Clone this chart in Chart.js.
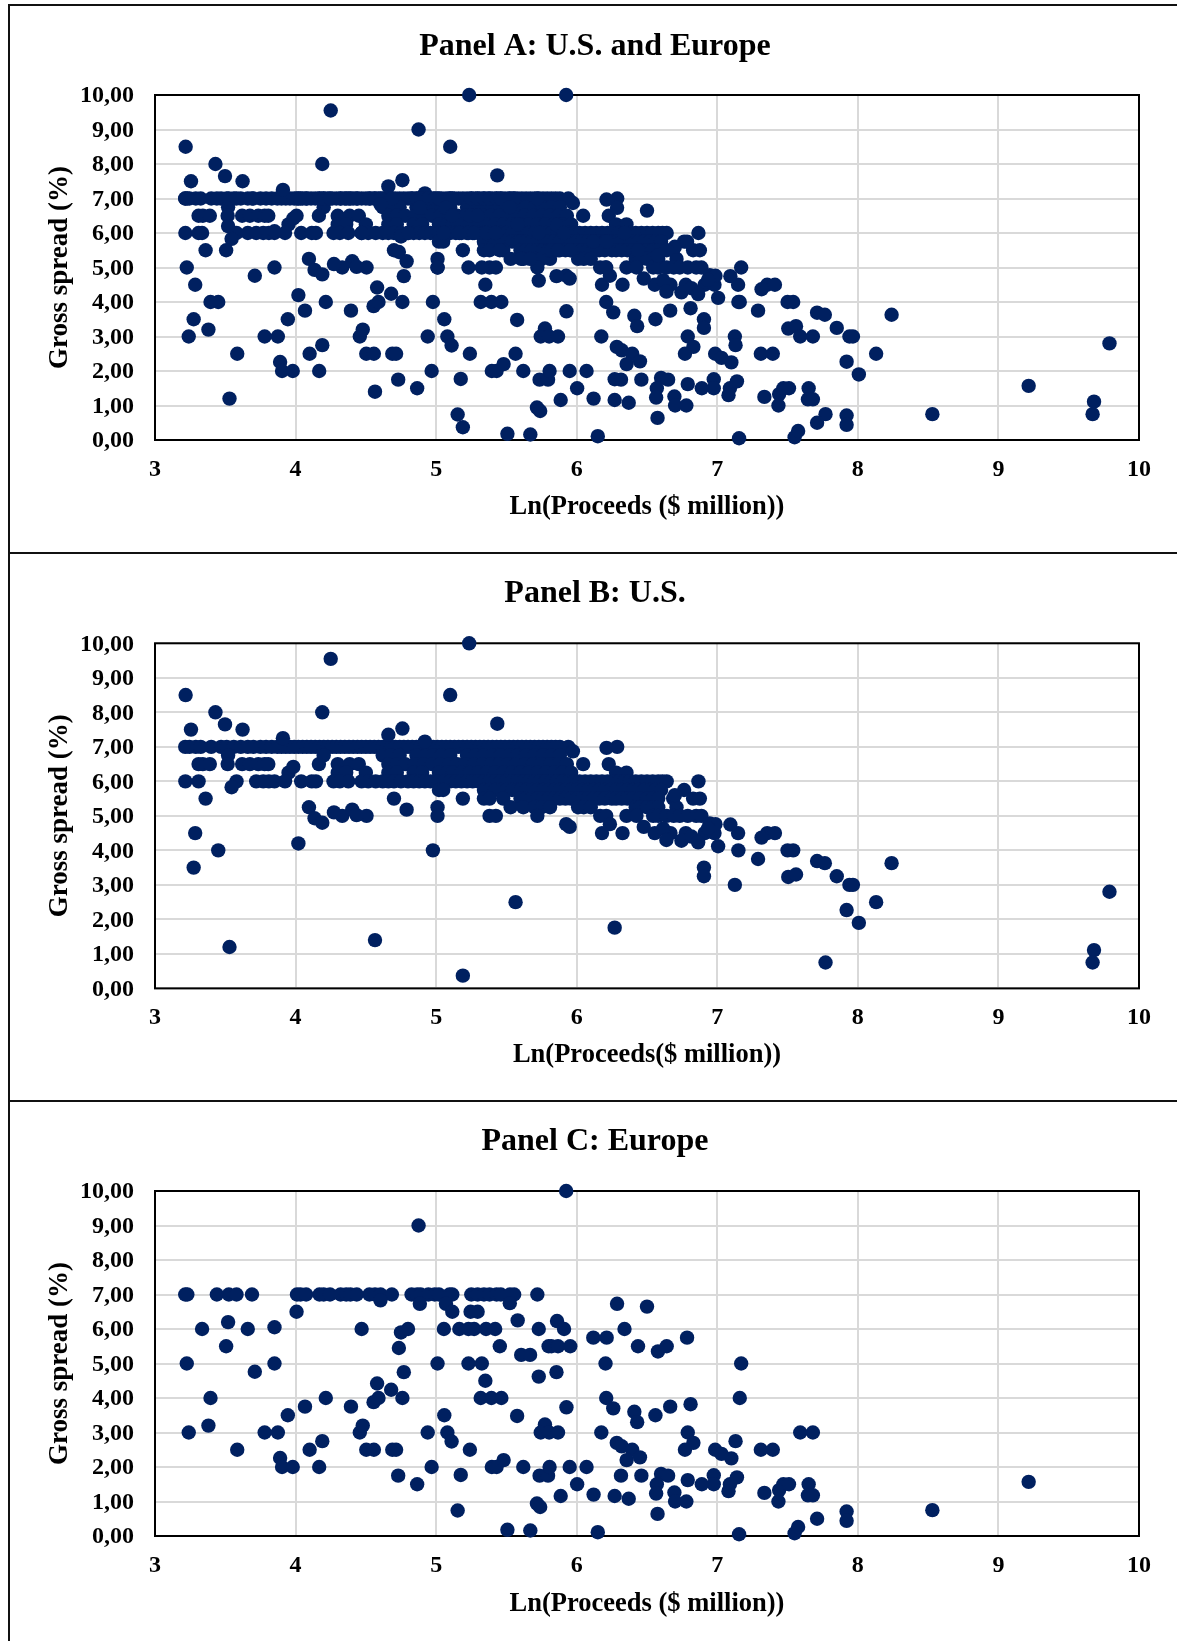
<!DOCTYPE html>
<html>
<head>
<meta charset="utf-8">
<script src="https://cdn.jsdelivr.net/npm/chart.js@4/dist/chart.umd.min.js"></script>
<style>
  html, body { margin: 0; background: #fff; }
  body { position: relative; width: 1177px; height: 1641px; overflow: hidden; }
  canvas { position: absolute; left: 0; }
  .rule { position: absolute; left: 8px; right: 0; bottom: 0; border-top: 2px solid #111; border-left: 2px solid #111; }
</style>
</head>
<body>
<div class="rule" style="top:4px"></div>
<div class="rule" style="top:552px"></div>
<div class="rule" style="top:1100px"></div>
<canvas id="panelA" width="1177" height="553" style="top:0"></canvas>
<canvas id="panelB" width="1177" height="548" style="top:553px"></canvas>
<canvas id="panelC" width="1177" height="540" style="top:1101px"></canvas>
<script>
const xTicks = ['3', '4', '5', '6', '7', '8', '9', '10'];
const yTicks = ['0,00', '1,00', '2,00', '3,00', '4,00', '5,00', '6,00', '7,00', '8,00', '9,00', '10,00'];

// U.S. deals that sit on the round spreads, x values only
const us7 = [3.215, 3.245, 3.29, 3.325, 3.40, 3.47, 3.51, 3.56, 3.61, 3.66, 3.70, 3.75, 3.79, 3.83, 3.87, 3.90, 3.93, 3.96, 3.99, 4.02, 4.05, 4.08, 4.11, 4.14, 4.17, 4.20, 4.23, 4.26, 4.29, 4.32, 4.35, 4.38, 4.41, 4.44, 4.47, 4.50, 4.53, 4.56, 4.59, 4.62, 4.65, 4.68, 4.71, 4.74, 4.77, 4.80, 4.83, 4.86, 4.89, 4.92, 4.95, 4.98, 5.01, 5.04, 5.07, 5.10, 5.13, 5.16, 5.19, 5.22, 5.25, 5.28, 5.31, 5.34, 5.37, 5.40, 5.43, 5.46, 5.49, 5.52, 5.55, 5.58, 5.61, 5.64, 5.67, 5.70, 5.73, 5.76, 5.79, 5.82, 5.85, 5.88, 5.94, 6.288];
const us675 = [3.52, 4.2, 4.62, 4.68, 4.74, 4.86, 4.93, 4.98, 5.04, 5.1, 5.22, 5.28, 5.34, 5.4, 5.46, 5.52, 5.58, 5.64, 5.7, 5.76, 5.82, 5.88];
const us65 = [3.31, 3.34, 3.39, 3.517, 3.62, 3.675, 3.735, 3.78, 3.806, 4.166, 4.30, 4.385, 4.45, 4.66, 4.72, 4.78, 4.85, 4.91, 4.97, 5.03, 5.09, 5.15, 5.21, 5.27, 5.33, 5.39, 5.45, 5.51, 5.57, 5.63, 5.69, 5.75, 5.81, 5.87, 5.93, 6.046, 6.228];
const us625 = [3.95, 4.30, 4.36, 4.5, 4.66, 4.72, 4.84, 4.9, 5.02, 5.08, 5.12, 5.18, 5.24, 5.3, 5.36, 5.42, 5.48, 5.54, 5.6, 5.66, 5.72, 5.78, 5.84, 5.9, 5.96, 6.28, 6.354];
const us6 = [3.216, 3.31, 3.58, 3.72, 3.77, 3.81, 3.85, 3.925, 4.04, 4.115, 4.145, 4.27, 4.315, 4.375, 4.47, 4.517, 4.57, 4.62, 4.66, 4.7, 4.75, 4.8, 4.84, 4.88, 4.92, 4.96, 5.02, 5.06, 5.1, 5.14, 5.18, 5.22, 5.26, 5.3, 5.34, 5.38, 5.42, 5.46, 5.5, 5.54, 5.58, 5.62, 5.66, 5.7, 5.74, 5.78, 5.82, 5.86, 5.9, 5.94, 5.98, 6.02, 6.06, 6.1, 6.14, 6.18, 6.22, 6.26, 6.3, 6.34, 6.38, 6.42, 6.46, 6.5, 6.54, 6.58, 6.61, 6.64, 6.866];
const us575 = [5.02, 5.05, 5.34, 5.38, 5.42, 5.46, 5.5, 5.54, 5.58, 5.6, 5.64, 5.68, 5.72, 5.76, 5.8, 5.84, 5.88, 5.92, 5.96, 6.0, 6.04, 6.08, 6.12, 6.16, 6.2, 6.24, 6.28, 6.32, 6.36, 6.4, 6.44, 6.48, 6.52, 6.56, 6.6, 6.764];
const us55 = [3.36, 4.70, 5.19, 5.34, 5.38, 5.477, 5.6, 5.64, 5.68, 5.72, 5.76, 5.8, 5.84, 5.88, 5.92, 5.96, 6.0, 6.04, 6.08, 6.12, 6.16, 6.2, 6.25, 6.28, 6.32, 6.36, 6.4, 6.45, 6.5, 6.54, 6.58, 6.686, 6.828, 6.876];
const us525 = [4.095, 5.01, 5.53, 5.62, 5.7, 5.75, 5.81, 6.01, 6.05, 6.1, 6.42, 6.45, 6.5, 6.54, 6.58, 6.71];
const us5 = [4.332, 4.505, 5.01, 5.38, 5.425, 5.72, 6.167, 6.21, 6.354, 6.425, 6.544, 6.58, 6.64, 6.69, 6.733, 6.79, 6.85, 6.887];
const us45 = [3.286, 6.18, 6.326, 6.555, 6.667, 6.776, 6.91, 6.98, 7.148, 7.355, 7.41];
const us4 = [3.45, 4.977, 7.15, 7.5, 7.54];

// U.S. deals off the round spreads, [x, y]
const usOther = [
  [3.218, 8.5], [3.256, 7.5], [3.43, 8], [3.498, 7.65], [3.623, 7.5], [3.91, 7.25], [4.19, 8], [4.25, 9.55],
  [4.66, 7.35], [4.76, 7.53], [4.92, 7.15], [5.10, 8.5], [5.435, 7.67], [5.235, 10], [5.973, 6.87], [6.212, 6.97],
  [3.984, 6.42], [3.545, 5.83], [4.135, 4.93], [4.19, 4.8], [4.273, 5.1], [4.403, 5.18], [4.434, 5.02], [4.79, 5.18],
  [5.925, 4.76], [5.95, 4.68], [4.02, 4.2], [3.275, 3.5], [5.565, 2.5], [3.53, 1.2], [4.565, 1.4], [5.19, 0.37],
  [6.698, 5.6], [6.236, 4.76], [6.477, 4.68], [6.615, 4.63], [6.638, 4.3], [6.745, 4.28], [6.816, 4.4], [6.864, 4.23],
  [6.946, 4.78], [6.987, 4.76], [6.935, 4.64], [7.006, 4.12], [7.093, 4.75], [7.29, 3.75], [7.315, 4.37],
  [7.505, 3.23], [7.56, 3.3], [7.71, 3.69], [7.765, 3.63], [7.85, 3.25], [7.94, 3], [7.965, 3], [8.24, 3.63],
  [8.13, 2.5], [7.92, 2.27], [8.007, 1.9], [6.905, 3.5], [6.905, 3.25], [7.125, 3], [6.27, 1.76], [7.77, 0.75],
  [9.68, 1.11], [9.67, 0.75], [9.79, 2.8]
];

// European deals at a 7,00 spread, x values only
const europe7 = [3.215, 3.23, 3.44, 3.525, 3.58, 3.69, 4.01, 4.035, 4.075, 4.17, 4.2, 4.245, 4.32, 4.36, 4.39, 4.435, 4.525, 4.565, 4.605, 4.685, 4.825, 4.865, 4.89, 4.945, 4.99, 5.02, 5.095, 5.115, 5.25, 5.295, 5.34, 5.38, 5.43, 5.46, 5.525, 5.555, 5.72];

// all other European deals, [x, y]
const europeOther = [
  [4.604, 6.83], [4.884, 6.73], [5.07, 6.73], [5.524, 6.75], [4.007, 6.5], [5.115, 6.5], [5.245, 6.5], [5.295, 6.5],
  [3.52, 6.2], [5.58, 6.25], [3.335, 6], [3.66, 6], [3.85, 6.05], [4.47, 6], [4.75, 5.9], [4.80, 6], [5.055, 6],
  [5.165, 6], [5.23, 6], [5.27, 6], [5.355, 6], [5.42, 6], [5.73, 6], [5.86, 6.23], [5.91, 6], [3.506, 5.5],
  [3.226, 5], [3.85, 5], [3.71, 4.76], [3.395, 4], [4.215, 4], [4.067, 3.75], [3.945, 3.5], [4.394, 3.75],
  [4.58, 4.42], [4.555, 3.88], [4.59, 4], [4.68, 4.24], [4.76, 4], [4.77, 4.75], [4.735, 5.45], [5.01, 5],
  [5.23, 5], [5.325, 5], [5.35, 4.5], [5.317, 4], [5.393, 4], [5.464, 4], [5.453, 5.5], [5.605, 5.25], [5.668, 5.25],
  [5.73, 4.62], [5.856, 4.75], [5.8, 5.5], [5.82, 5.5], [5.867, 5.5], [5.954, 5.5], [5.927, 3.73], [5.576, 3.48],
  [5.058, 3.5], [5.774, 3.23], [5.744, 3], [5.804, 3], [5.867, 3], [4.94, 3], [5.08, 3], [5.11, 2.74], [5.24, 2.5],
  [3.38, 3.2], [3.24, 3], [3.78, 3], [3.874, 3], [3.585, 2.5], [3.89, 2.26], [3.904, 2], [3.98, 2], [4.10, 2.5],
  [4.19, 2.75], [4.168, 2], [4.457, 3], [4.478, 3.2], [4.503, 2.5], [4.557, 2.5], [4.688, 2.5], [4.715, 2.5],
  [4.73, 1.75], [4.865, 1.5], [4.968, 2], [5.175, 1.77], [5.153, 0.74], [5.396, 2], [5.43, 2], [5.48, 2.2], [5.62, 2],
  [5.736, 1.75], [5.796, 1.75], [5.807, 2], [5.95, 2], [6.07, 2], [6.003, 1.5], [5.886, 1.16], [5.717, 0.94],
  [5.74, 0.84], [5.507, 0.18], [5.67, 0.16], [5.925, 10], [4.875, 9],
  [6.118, 5.75], [6.213, 5.75], [6.34, 6], [6.436, 5.5], [6.578, 5.35], [6.64, 5.5], [6.785, 5.75], [6.287, 6.73],
  [6.50, 6.65], [6.205, 5], [7.17, 5], [6.21, 4], [6.26, 3.7], [6.41, 3.6], [6.43, 3.3], [6.56, 3.5], [6.665, 3.75],
  [6.81, 3.82], [7.16, 4], [6.79, 3], [6.83, 2.7], [6.77, 2.5], [6.175, 3], [6.285, 2.7], [6.32, 2.6], [6.395, 2.5],
  [6.355, 2.2], [6.45, 2.28], [7.13, 2.75], [7.59, 3], [7.68, 3], [7.31, 2.5], [7.395, 2.5], [6.985, 2.5], [7.03, 2.38],
  [7.10, 2.25], [6.315, 1.75], [6.46, 1.75], [6.6, 1.8], [6.65, 1.75], [6.57, 1.5], [6.565, 1.23], [6.79, 1.62],
  [6.89, 1.5], [6.975, 1.76], [6.975, 1.5], [7.09, 1.5], [7.14, 1.7], [7.08, 1.3], [6.12, 1.2], [6.27, 1.16], [6.37, 1.08],
  [6.695, 1.26], [6.70, 1], [6.78, 1], [6.575, 0.64], [6.15, 0.11], [7.155, 0.05], [7.55, 0.08], [7.575, 0.26],
  [7.71, 0.5], [7.92, 0.71], [7.92, 0.44], [8.53, 0.75], [9.215, 1.57], [7.335, 1.25], [7.44, 1.33], [7.435, 1],
  [7.47, 1.5], [7.51, 1.5], [7.65, 1.5], [7.645, 1.18], [7.68, 1.18]
];

const toPoint = ([x, y]) => ({ x, y });
const row = (xs, y) => xs.map(x => ({ x, y }));

const usPoints = [
  ...row(us7, 7), ...row(us675, 6.75), ...row(us65, 6.5), ...row(us625, 6.25), ...row(us6, 6), ...row(us575, 5.75),
  ...row(us55, 5.5), ...row(us525, 5.25), ...row(us5, 5), ...row(us45, 4.5), ...row(us4, 4), ...usOther.map(toPoint)
];
const europePoints = [...row(europe7, 7), ...europeOther.map(toPoint)];

const frame = {
  id: 'frame',
  afterLayout(chart) {
    // the panel title is centred on the whole ruled box, not on the plot
    chart.titleBlock.left = 13;
    chart.titleBlock.right = 1177;
  },
  beforeDatasetsDraw(chart) {
    const { ctx, chartArea: a } = chart;
    ctx.save();
    ctx.strokeStyle = '#000';
    ctx.lineWidth = 2;
    ctx.strokeRect(a.left, a.top, a.right - a.left, a.bottom - a.top);
    ctx.restore();
  }
};

function panel(id, title, xTitle, points, t) {
  const serif = size => ({ family: '"Liberation Serif"', size, weight: 'bold', lineHeight: 1.2 });
  return new Chart(document.getElementById(id), {
    type: 'scatter',
    data: {
      datasets: [{
        data: points,
        backgroundColor: '#002060',
        borderWidth: 0,
        pointRadius: 7.2,
        clip: false
      }]
    },
    options: {
      responsive: false,
      animation: false,
      layout: { padding: { left: 13, right: 38, top: 0, bottom: 0 } },
      plugins: {
        legend: { display: false },
        tooltip: { enabled: false },
        title: {
          display: true,
          text: title,
          color: '#000',
          font: serif(32),
          padding: { top: t.titleTop, bottom: t.titleBottom }
        }
      },
      scales: {
        x: {
          type: 'linear',
          min: 3,
          max: 10,
          afterFit: s => { s.height = t.xHeight; },
          grid: { color: '#d9d9d9', lineWidth: 2, drawTicks: false },
          border: { display: false },
          ticks: {
            stepSize: 1,
            padding: 15,
            color: '#000',
            maxRotation: 0,
            font: serif(24),
            callback: (v, i) => xTicks[i]
          },
          title: {
            display: true,
            text: xTitle,
            color: '#000',
            font: serif(26.5),
            padding: { top: 0, bottom: t.xTitleBottom }
          }
        },
        y: {
          min: 0,
          max: 10,
          afterFit: s => { s.width = 142; },
          grid: { color: '#d9d9d9', lineWidth: 2, drawTicks: false },
          border: { display: false },
          ticks: {
            stepSize: 1,
            padding: 21,
            labelOffset: 1,
            color: '#000',
            font: serif(24),
            callback: (v, i) => yTicks[i]
          },
          title: {
            display: true,
            text: 'Gross spread (%)',
            color: '#000',
            font: serif(27),
            padding: { top: 31, bottom: 0 }
          }
        }
      }
    },
    plugins: [frame]
  });
}

panel('panelA', 'Panel A: U.S. and Europe', 'Ln(Proceeds ($ million))', [...usPoints, ...europePoints],
  { titleTop: 27.8, titleBottom: 28.8, xHeight: 113, xTitleBottom: 30.1 });
panel('panelB', 'Panel B: U.S.', 'Ln(Proceeds($ million))', usPoints,
  { titleTop: 21.8, titleBottom: 30.1, xHeight: 112.6, xTitleBottom: 29.7 });
panel('panelC', 'Panel C: Europe', 'Ln(Proceeds ($ million))', europePoints,
  { titleTop: 21.8, titleBottom: 29.8, xHeight: 105, xTitleBottom: 21.1 });
</script>
</body>
</html>
